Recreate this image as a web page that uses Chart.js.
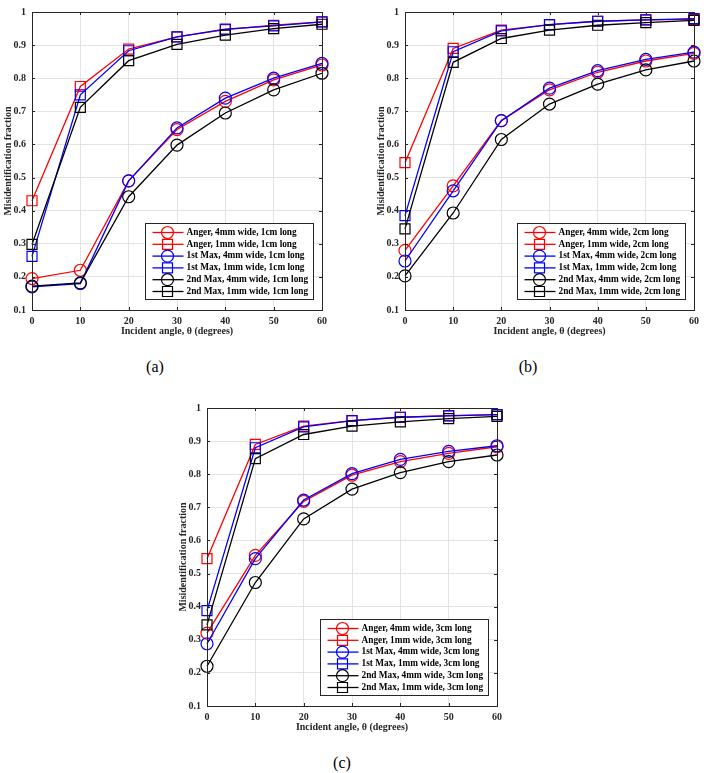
<!DOCTYPE html>
<html>
<head>
<meta charset="utf-8">
<script src="https://cdn.jsdelivr.net/npm/chart.js@4.4.1/dist/chart.umd.min.js"></script>
<style>
  body { margin: 0; background: #fff; }
  #page { position: relative; width: 704px; height: 773px; overflow: hidden; }
  canvas { position: absolute; }
  .tag { position: absolute; font-family: "Liberation Serif", "Times New Roman", serif; font-size: 16px; transform: translate(-50%, -50%); }
</style>
</head>
<body>
<div id="page">
  <canvas id="chartA" style="left:0px; top:0px;"></canvas>
  <canvas id="chartB" style="left:373px; top:0px;"></canvas>
  <canvas id="chartC" style="left:175px; top:396px;"></canvas>
  <div class="tag" style="left:155px; top:367px;">(a)</div>
  <div class="tag" style="left:528px; top:367px;">(b)</div>
  <div class="tag" style="left:342px; top:763px;">(c)</div>
</div>
<script>
// angles and axis ticks
const angles = [0, 10, 20, 30, 40, 50, 60];
const xTicks = [0, 10, 20, 30, 40, 50, 60];
const yTicks = [0.1, 0.2, 0.3, 0.4, 0.5, 0.6, 0.7, 0.8, 0.9, 1];

// (a) 1cm long
const angerWide1 = [0.195, 0.22, 0.49, 0.645, 0.73, 0.795, 0.84];
const angerNarrow1 = [0.43, 0.775, 0.888, 0.925, 0.947, 0.96, 0.97];
const max1Wide1 = [0.17, 0.18, 0.49, 0.65, 0.74, 0.80, 0.845];
const max1Narrow1 = [0.262, 0.75, 0.883, 0.925, 0.948, 0.958, 0.97];
const max2Wide1 = [0.172, 0.182, 0.442, 0.598, 0.695, 0.765, 0.815];
const max2Narrow1 = [0.298, 0.712, 0.853, 0.902, 0.93, 0.95, 0.963];

// (b) 2cm long
const angerWide2 = [0.28, 0.475, 0.672, 0.765, 0.818, 0.852, 0.875];
const angerNarrow2 = [0.545, 0.89, 0.945, 0.962, 0.972, 0.976, 0.978];
const max1Wide2 = [0.248, 0.46, 0.672, 0.77, 0.823, 0.857, 0.879];
const max1Narrow2 = [0.385, 0.88, 0.943, 0.962, 0.972, 0.976, 0.98];
const max2Wide2 = [0.203, 0.393, 0.615, 0.722, 0.782, 0.825, 0.852];
const max2Narrow2 = [0.345, 0.848, 0.92, 0.945, 0.96, 0.968, 0.975];

// (c) 3cm long
const angerWide3 = [0.32, 0.555, 0.718, 0.797, 0.838, 0.863, 0.883];
const angerNarrow3 = [0.545, 0.89, 0.945, 0.962, 0.972, 0.977, 0.98];
const max1Wide3 = [0.288, 0.545, 0.722, 0.802, 0.845, 0.869, 0.886];
const max1Narrow3 = [0.388, 0.88, 0.943, 0.962, 0.972, 0.976, 0.98];
const max2Wide3 = [0.22, 0.473, 0.665, 0.755, 0.805, 0.838, 0.858];
const max2Narrow3 = [0.345, 0.847, 0.92, 0.945, 0.958, 0.968, 0.975];

const FONT = "'Liberation Serif', 'Times New Roman', serif";
const seriesStyle = [
    { name: "Anger, 4mm wide", color: "#ff0000", shape: "circle" },
    { name: "Anger, 1mm wide", color: "#ff0000", shape: "rect" },
    { name: "1st Max, 4mm wide", color: "#0000ff", shape: "circle" },
    { name: "1st Max, 1mm wide", color: "#0000ff", shape: "rect" },
    { name: "2nd Max, 4mm wide", color: "#000000", shape: "circle" },
    { name: "2nd Max, 1mm wide", color: "#000000", shape: "rect" }
];

function drawMarker(ctx, shape, x, y, color) {
    ctx.save();
    ctx.strokeStyle = color;
    ctx.lineWidth = 1.2;
    ctx.beginPath();
    if (shape === "circle") {
        ctx.arc(x, y, 6, 0, Math.PI * 2);
    } else {
        ctx.rect(x - 5, y - 5, 10, 10);
    }
    ctx.stroke();
    ctx.restore();
}

// frame, inner ticks and legend box like MATLAB
const framePlugin = {
    id: "frame",
    afterDatasetsDraw(chart) {
        const ctx = chart.ctx;
        const a = chart.chartArea;
        const xs = chart.scales.x, ys = chart.scales.y;
        ctx.save();
        ctx.strokeStyle = "#262626";
        ctx.lineWidth = 1;
        ctx.beginPath();
        xTicks.forEach(v => {
            const px = Math.round(xs.getPixelForValue(v)) + 0.5;
            ctx.moveTo(px, a.bottom); ctx.lineTo(px, a.bottom - 3);
            ctx.moveTo(px, a.top); ctx.lineTo(px, a.top + 3);
        });
        yTicks.forEach(v => {
            const py = Math.round(ys.getPixelForValue(v)) + 0.5;
            ctx.moveTo(a.left, py); ctx.lineTo(a.left + 3, py);
            ctx.moveTo(a.right, py); ctx.lineTo(a.right - 3, py);
        });
        ctx.stroke();
        ctx.strokeRect(Math.round(a.left) + 0.5, Math.round(a.top) + 0.5,
            Math.round(a.right - a.left), Math.round(a.bottom - a.top));

        // legend
        const w = 168, h = 76;
        const bx = Math.round(a.right - 9 - w) + 0.5;
        const by = Math.round(a.bottom - 11 - h) + 0.5;
        ctx.fillStyle = "#fff";
        ctx.fillRect(bx, by, w, h);
        ctx.strokeStyle = "#262626";
        ctx.strokeRect(bx, by, w, h);
        ctx.font = "bold 9.3px " + FONT;
        ctx.textBaseline = "middle";
        chart.data.datasets.forEach((ds, i) => {
            const st = seriesStyle[i];
            const ry = by + 9 + i * 11.8;
            ctx.strokeStyle = st.color;
            ctx.lineWidth = 1.3;
            ctx.beginPath();
            ctx.moveTo(bx + 7, ry); ctx.lineTo(bx + 38, ry);
            ctx.stroke();
            drawMarker(ctx, st.shape, bx + 22, ry, st.color);
            ctx.fillStyle = "#000";
            ctx.fillText(ds.label, bx + 41, ry);
        });
        ctx.restore();
    }
};

function makeChart(id, width, lengthLabel, series) {
    const canvas = document.getElementById(id);
    canvas.width = width;
    canvas.height = 345;
    canvas.style.width = width + "px";
    canvas.style.height = "345px";

    const datasets = series.map((vals, i) => ({
        label: seriesStyle[i].name + ", " + lengthLabel,
        data: angles.map((a, j) => ({ x: a, y: vals[j] })),
        borderColor: seriesStyle[i].color,
        backgroundColor: "rgba(0,0,0,0)",
        borderWidth: 1.3,
        pointStyle: seriesStyle[i].shape,
        pointRadius: seriesStyle[i].shape === "circle" ? 6 : 7.07,
        pointBorderWidth: 1.2,
        pointBackgroundColor: "rgba(0,0,0,0)",
        pointBorderColor: seriesStyle[i].color,
        order: 5 - i,
        clip: false,
        tension: 0
    }));

    return new Chart(canvas.getContext("2d"), {
        type: "line",
        data: { datasets },
        plugins: [framePlugin],
        options: {
            responsive: false,
            animation: false,
            layout: { padding: { left: 0, top: 5, right: width - 32 - 290, bottom: 0 } },
            plugins: { legend: { display: false }, tooltip: { enabled: false } },
            scales: {
                x: {
                    type: "linear", min: 0, max: 60,
                    afterBuildTicks: s => { s.ticks = xTicks.map(v => ({ value: v })); },
                    afterFit: s => { s.height = 35; },
                    grid: { color: "#e3e3e3", drawTicks: false },
                    border: { display: false },
                    ticks: { padding: 5, color: "#262626", font: { family: FONT, size: 10, weight: "bold" } },
                    title: { display: true, text: "Incident angle, θ (degrees)", color: "#262626",
                        font: { family: FONT, size: 10, weight: "bold" }, padding: { top: 0, bottom: 8 } }
                },
                y: {
                    type: "linear", min: 0.1, max: 1,
                    afterBuildTicks: s => { s.ticks = yTicks.map(v => ({ value: v })); },
                    afterFit: s => { s.width = 32; },
                    grid: { color: "#e3e3e3", drawTicks: false },
                    border: { display: false },
                    ticks: { padding: 6, color: "#262626", font: { family: FONT, size: 10, weight: "bold" },
                        callback: v => String(Math.round(v * 10) / 10) },
                    title: { display: true, text: "Misidentification fraction", color: "#262626",
                        font: { family: FONT, size: 10, weight: "bold" }, padding: { top: 2, bottom: 0 } }
                }
            }
        }
    });
}

makeChart("chartA", 340, "1cm long",
    [angerWide1, angerNarrow1, max1Wide1, max1Narrow1, max2Wide1, max2Narrow1]);
makeChart("chartB", 331, "2cm long",
    [angerWide2, angerNarrow2, max1Wide2, max1Narrow2, max2Wide2, max2Narrow2]);
makeChart("chartC", 340, "3cm long",
    [angerWide3, angerNarrow3, max1Wide3, max1Narrow3, max2Wide3, max2Narrow3]);
</script>
</body>
</html>
